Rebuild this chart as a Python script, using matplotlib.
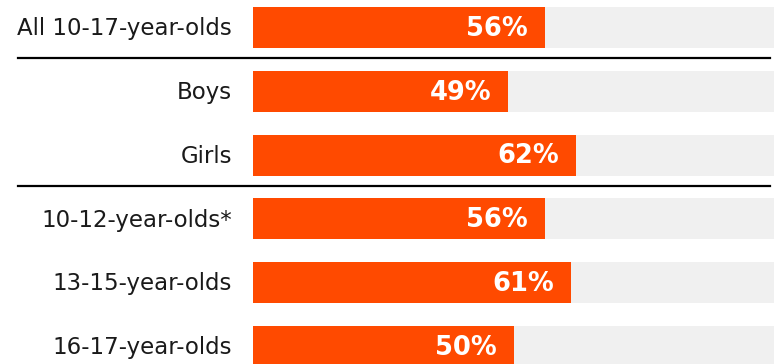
import matplotlib.pyplot as plt

labels = ['All 10-17-year-olds', 'Boys', 'Girls',
          '10-12-year-olds*', '13-15-year-olds', '16-17-year-olds']
values = [56, 49, 62, 56, 61, 50]
dividers = [0.48, 2.48]

ORANGE = '#FF4A00'
TRACK = '#F0F0F0'

fig = plt.figure(figsize=(7.76, 3.64), dpi=100)
ax = fig.add_axes([253/776, 0, 521/776, 1])

rows = list(range(len(values)))
ax.barh(rows, [100]*len(values), height=0.645, color=TRACK, linewidth=0)
ax.barh(rows, values, height=0.645, color=ORANGE, linewidth=0)

for i, v in enumerate(values):
    ax.text(v - 3.2, i + 0.02, '%d%%' % v, color='white', fontsize=18.5,
            fontweight='bold', family='DejaVu Sans', ha='right', va='center')
    ax.text(-4.0, i + 0.02, labels[i], fontsize=16.5, family='DejaVu Sans',
            color='#1a1a1a', ha='right', va='center')

for d in dividers:
    ax.axhline(d, xmin=(18-253)/521, xmax=(770-253)/521, color='black',
               linewidth=1.6, clip_on=False)

ax.set_xlim(0, 100)
ax.set_ylim(5.274, -0.431)
ax.axis('off')

fig.savefig('out.png', dpi=100)
